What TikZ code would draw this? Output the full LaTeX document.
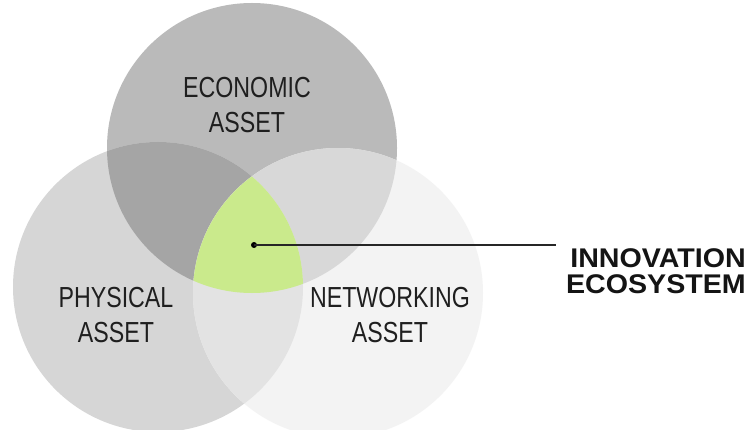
\documentclass[tikz,border=0pt]{standalone}
\usepackage{fontspec}
\setmainfont{Liberation Sans}
\begin{document}
\begin{tikzpicture}[x=1pt,y=-1pt,
  lbl/.style={font=\fontsize{29}{35}\selectfont, text=black!88, align=center, xscale=0.8, inner sep=0pt},
  big/.style={font=\fontsize{27}{26}\selectfont\bfseries, text=black!92, align=right, inner sep=0pt, anchor=north east, xscale=1.06}]
\useasboundingbox (0,0) rectangle (751,430);
\fill[white] (0,0) rectangle (751,430);
\def\econ{(252,148) circle[radius=145]}
\def\phys{(158,287) circle[radius=145]}
\def\netw{(338,293) circle[radius=145]}
% single circles
\fill[fill={rgb,255:red,186;green,186;blue,186}] \econ;
\fill[fill={rgb,255:red,214;green,214;blue,214}] \phys;
\fill[fill={rgb,255:red,243;green,243;blue,243}] \netw;
% pairwise overlaps
\begin{scope}\clip \econ; \fill[fill={rgb,255:red,165;green,165;blue,165}] \phys; \end{scope}
\begin{scope}\clip \econ; \fill[fill={rgb,255:red,216;green,216;blue,216}] \netw; \end{scope}
\begin{scope}\clip \phys; \fill[fill={rgb,255:red,227;green,227;blue,227}] \netw; \end{scope}
% triple
\begin{scope}\clip \econ; \clip \phys; \fill[fill={rgb,255:red,202;green,234;blue,140}] \netw; \end{scope}
% labels
\node[lbl] (econ) at (247,105) {ECONOMIC\\ASSET};
\node[lbl] (phys) at (116,315) {PHYSICAL\\ASSET};
\node[lbl] (netw) at (390,315) {NETWORKING\\ASSET};
\node[big] (inno) at (746,248) {INNOVATION\\ECOSYSTEM};
\coordinate (dot) at (254,245);
\coordinate (lineend) at (556,245);
\fill[black] (dot) circle[radius=3];
\draw[line width=1.5pt, black!85] (dot) -- (lineend);
\end{tikzpicture}
\end{document}
